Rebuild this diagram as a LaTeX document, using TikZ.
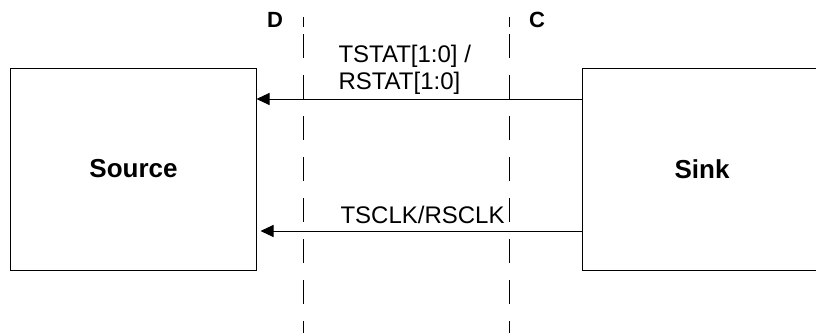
\documentclass[tikz,border=0pt]{standalone}
\usepackage{fontspec}
\setmainfont{Liberation Sans}
\usetikzlibrary{arrows.meta}
\begin{document}
\begin{tikzpicture}[x=1bp,y=-1bp,line width=1bp,
    block/.style={draw, minimum height=202bp, inner sep=0pt,
        font=\fontsize{26bp}{30bp}\selectfont\bfseries},
    sig/.style={-{Triangle[length=13bp,width=12bp]}},
    boundary/.style={dash pattern=on 10bp off 7.3bp on 24bp off 17bp on 24bp off 17bp
        on 24bp off 17bp on 24bp off 17bp on 24bp off 17bp on 24bp off 17bp
        on 24bp off 17bp on 24bp off 17bp on 24bp off 17bp},
    siglabel/.style={inner sep=0pt, align=left, font=\fontsize{24bp}{27bp}\selectfont},
    domlabel/.style={inner sep=0pt, font=\fontsize{22bp}{26bp}\selectfont\bfseries}]
    \useasboundingbox (0,0) rectangle (816,333);

    % Blocks
    \node[block, minimum width=245bp] (src) at (133.5,169) {Source};
    \node[block, minimum width=240bp] (snk) at (702,169) {Sink};

    % Domain boundaries
    \foreach \x in {303,509} {
        \draw[boundary] (\x,17) -- (\x,333);
    }
    \node[domlabel] (domD) at (275,19.5) {D};
    \node[domlabel] (domC) at (537,19.5) {C};

    % Signals
    \coordinate (stat) at (0,99);
    \coordinate (clk) at (0,231);
    \draw[sig] (snk.west |- stat) -- (src.east |- stat);
    \draw[sig, shorten >=4bp] (snk.west |- clk) -- (src.east |- clk);
    \node[siglabel, anchor=north west] (statlbl) at (338,45) {TSTAT[1:0] /\\RSTAT[1:0]};
    \node[siglabel, anchor=base west] (clklbl) at (340,223) {TSCLK/RSCLK};
\end{tikzpicture}
\end{document}
